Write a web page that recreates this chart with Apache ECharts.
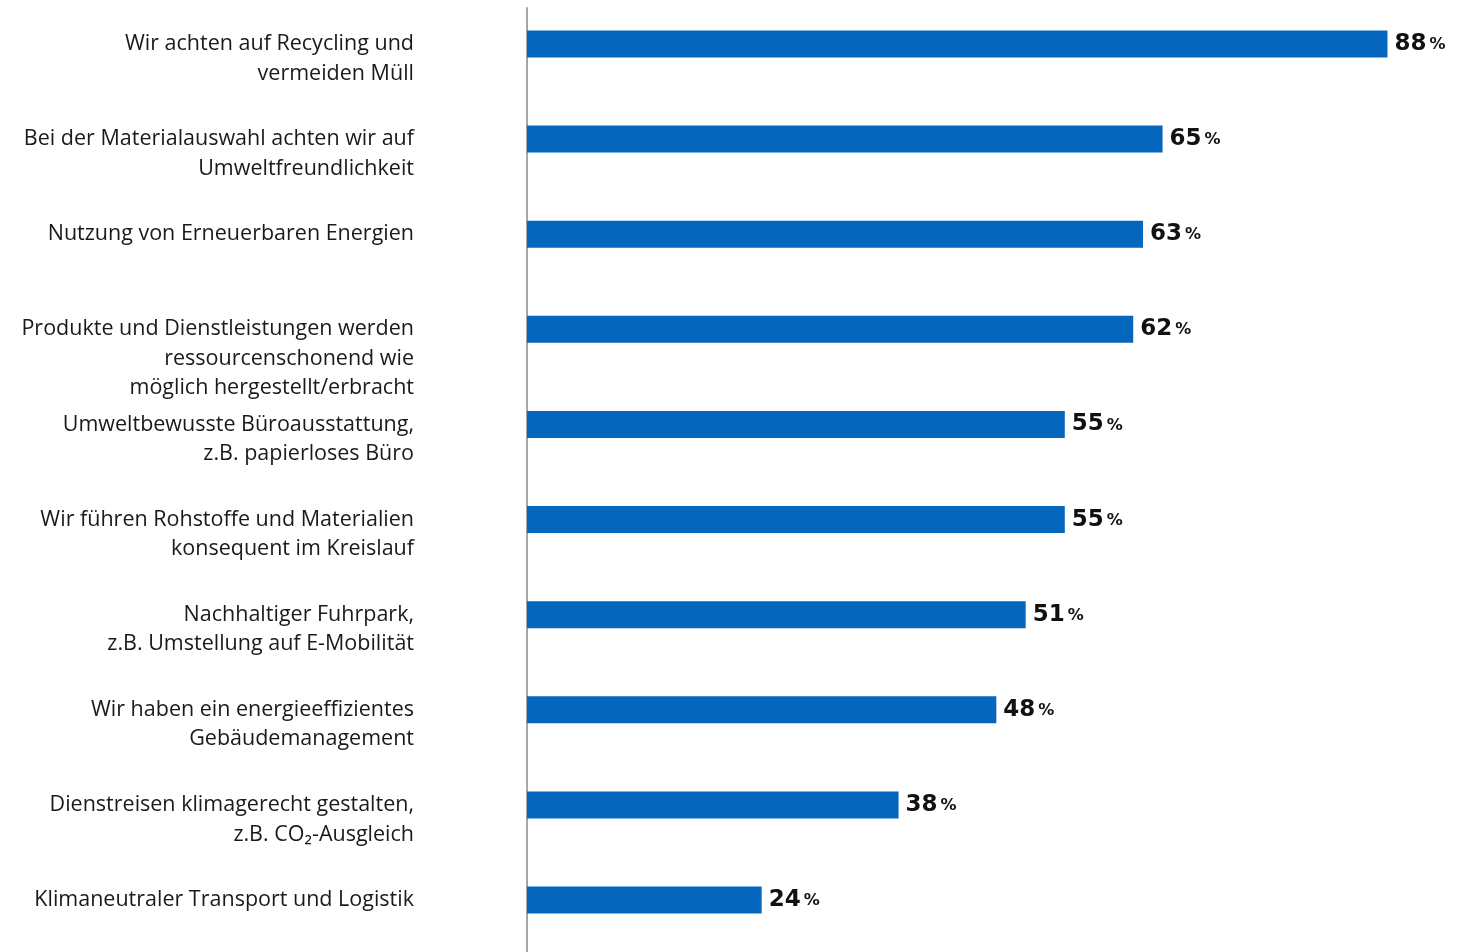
<!DOCTYPE html>
<html>
<head>
<meta charset="utf-8">
<script src="https://cdn.jsdelivr.net/npm/echarts@6/dist/echarts.min.js"></script>
<style>
  html, body { margin: 0; padding: 0; background: #fff; }
  #chart { width: 1466px; height: 952px; }
</style>
</head>
<body>
<div id="chart"></div>
<script>
// Maßnahmen, von oben nach unten
const categories = [
  'Wir achten auf Recycling und\nvermeiden Müll',
  'Bei der Materialauswahl achten wir auf\nUmweltfreundlichkeit',
  'Nutzung von Erneuerbaren Energien',
  'Produkte und Dienstleistungen werden\nressourcenschonend wie\nmöglich hergestellt/erbracht',
  'Umweltbewusste Büroausstattung,\nz.B. papierloses Büro',
  'Wir führen Rohstoffe und Materialien\nkonsequent im Kreislauf',
  'Nachhaltiger Fuhrpark,\nz.B. Umstellung auf E-Mobilität',
  'Wir haben ein energieeffizientes\nGebäudemanagement',
  'Dienstreisen klimagerecht gestalten,\nz.B. CO₂-Ausgleich',
  'Klimaneutraler Transport und Logistik'
]
const values = [88, 65, 63, 62, 55, 55, 51, 48, 38, 24]

const chart = echarts.init(document.getElementById('chart'))

// erste / letzte Balkenmitte
const FIRST_Y = 44
const LAST_Y = 900
const LINE_H = 29.5

chart.setOption({
  animation: false,
  textStyle: { fontFamily: '"Open Sans", sans-serif' },
  grid: [
    { left: 527, right: 59, top: FIRST_Y, bottom: 952 - LAST_Y },
    { left: 527, right: 59, top: FIRST_Y - LINE_H / 2, bottom: 952 - LAST_Y + LINE_H / 2 },
    { left: 527, right: 59, top: 8, bottom: 0 }
  ],
  xAxis: [
    { gridIndex: 0, type: 'value', min: 0, max: 90, show: false },
    { gridIndex: 1, type: 'value', min: 0, max: 90, show: false },
    { gridIndex: 2, type: 'value', min: 0, max: 90, show: false }
  ],
  yAxis: [
    {
      gridIndex: 0, type: 'category', inverse: true, boundaryGap: false, data: categories,
      axisLine: { show: false }, axisTick: { show: false }, axisLabel: { show: false }
    },
    {
      gridIndex: 1, type: 'category', inverse: true, boundaryGap: false, data: categories,
      axisLine: { show: false }, axisTick: { show: false },
      axisLabel: {
        margin: 113, align: 'right', verticalAlign: 'top',
        fontSize: 21.5, lineHeight: LINE_H, color: '#1a1a1a'
      }
    },
    {
      gridIndex: 2, type: 'value', min: 0, max: 1,
      axisLine: { show: true, lineStyle: { color: '#a6a6a6', width: 2 } },
      axisTick: { show: false }, axisLabel: { show: false }, splitLine: { show: false }
    }
  ],
  series: [{
    type: 'bar',
    xAxisIndex: 0, yAxisIndex: 0,
    data: values,
    barWidth: 27,
    itemStyle: { color: '#0466bc' },
    label: {
      show: true, position: 'right', distance: 7,
      formatter: p => '{v|' + p.value + '}{p|%}',
      rich: {
        v: { fontFamily: '"DejaVu Sans"', fontSize: 23, fontWeight: 'bold', color: '#111' },
        p: { fontFamily: '"DejaVu Sans"', fontSize: 16, fontWeight: 'bold', color: '#111', padding: [2, 0, 0, 3] }
      }
    }
  }]
})
</script>
</body>
</html>
